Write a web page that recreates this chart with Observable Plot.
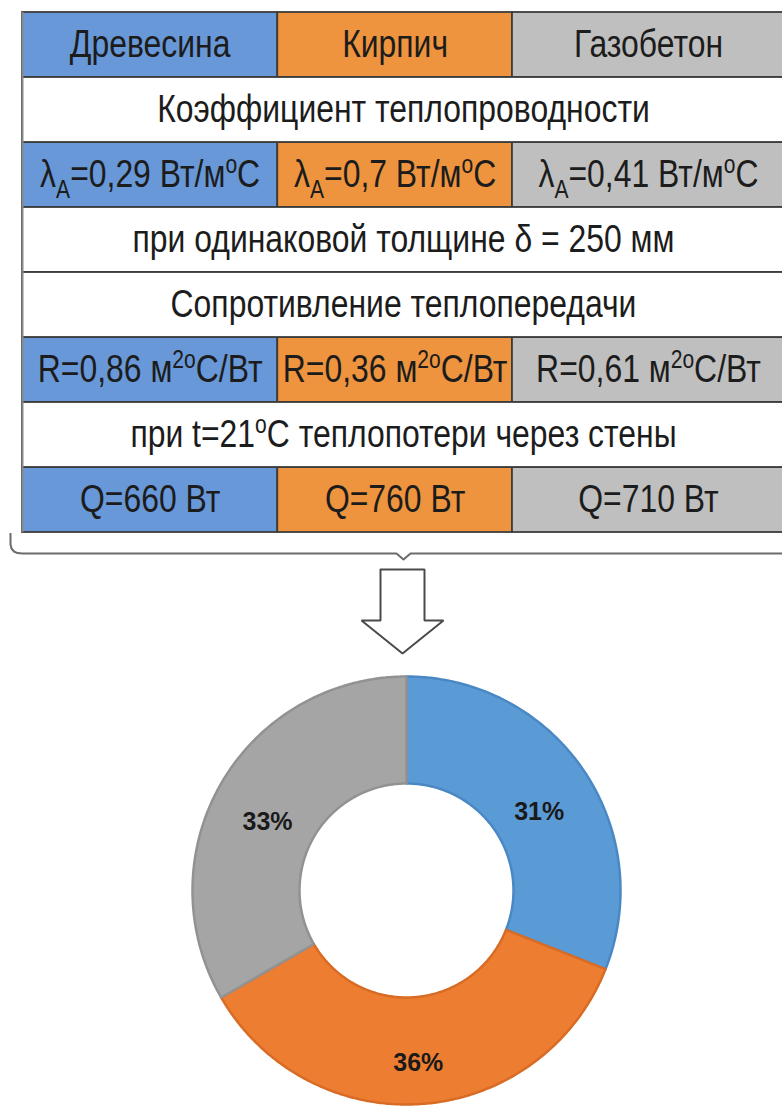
<!DOCTYPE html>
<html><head><meta charset="utf-8">
<script src="https://cdn.jsdelivr.net/npm/d3@7"></script>
<script src="https://cdn.jsdelivr.net/npm/@observablehq/plot@0.6"></script>
<style>
html,body{margin:0;padding:0;background:#fff;}
#chart{width:782px;overflow:hidden;}
#chart svg{display:block;}
</style></head><body><div id="chart"></div>
<script>
// ---------- data ----------
const materials = ["Древесина", "Кирпич", "Газобетон"];
const lambdaA = [0.29, 0.7, 0.41];        // Вт/м°C
const resistanceR = [0.86, 0.36, 0.61];   // м²°C/Вт
const heatLossQ = [660, 760, 710];        // Вт
const wallThickness = 250;                // мм
const indoorTemp = 21;                    // °C
const titleCoef = "Коэффициент теплопроводности";
const titleResist = "Сопротивление теплопередачи";

// ---------- layout / style ----------
const FONT = "'Liberation Sans',Arial,sans-serif";
const tableFont = 38;
const narrow = 0.84;
const colEdges = [0, 0.335, 0.643, 1];
const tableColors = ["#6898d7", "#ef943e", "#bfbfbf"];
const donutColors = ["#5b9bd5", "#ed7d31", "#a5a5a5"];
const donutStrokes = ["#4a88c4", "#d86c25", "#929292"];
const rows = ["names", "coef", "lambda", "thick", "resist", "R", "temp", "Q"];

const fmt = v => String(v).replace(".", ",");

const cells = [];
materials.forEach((m, i) => {
  const x1 = colEdges[i], x2 = colEdges[i + 1];
  cells.push({row: "names", x1, x2, kind: m, text: m});
  cells.push({row: "lambda", x1, x2, kind: m, text: `λ_{A}=${fmt(lambdaA[i])} Вт/м^{o}C`});
  cells.push({row: "R", x1, x2, kind: m, text: `R=${fmt(resistanceR[i])} м^{2o}C/Вт`});
  cells.push({row: "Q", x1, x2, kind: m, text: `Q=${heatLossQ[i]} Вт`});
});
cells.push({row: "coef", x1: 0, x2: 1, kind: "blank", text: titleCoef});
cells.push({row: "thick", x1: 0, x2: 1, kind: "blank", text: `при одинаковой толщине δ = ${wallThickness} мм`});
cells.push({row: "resist", x1: 0, x2: 1, kind: "blank", text: titleResist});
cells.push({row: "temp", x1: 0, x2: 1, kind: "blank", text: `при t=${indoorTemp}^{o}C теплопотери через стены`});

function richText(svg, fs) {
  d3.select(svg).selectAll("text").each(function () {
    const s = this.textContent;
    if (!/[_^]\{/.test(s)) return;
    const sel = d3.select(this);
    sel.text("");
    const re = /([_^])\{([^}]*)\}/g;
    let last = 0, cur = 0, m;
    const add = (t, target, small) => {
      if (!t) return;
      const ts = sel.append("tspan").text(t);
      if (target !== cur) ts.attr("dy", target - cur);
      cur = target;
      if (small) ts.attr("font-size", fs * 0.66);
    };
    while ((m = re.exec(s))) {
      add(s.slice(last, m.index), 0, false);
      add(m[2], m[1] === "_" ? fs * 0.28 : -fs * 0.38, true);
      last = re.lastIndex;
    }
    add(s.slice(last), 0, false);
  });
}
function condense(svg, sx) {
  d3.select(svg).selectAll("text").each(function () {
    const t = this.getAttribute("transform") || "";
    const x = this.getAttribute("x");
    if (x != null && !isNaN(+x) && +x !== 0) {
      this.setAttribute("transform", `${t} translate(${+x},0) scale(${sx},1)`);
      this.setAttribute("x", 0);
    } else {
      this.setAttribute("transform", `${t} scale(${sx},1)`);
    }
  });
}

const chart = document.getElementById("chart");

// ---------- table ----------
const table = Plot.plot({
  width: 782, height: 533,
  marginTop: 12, marginBottom: 1, marginLeft: 22, marginRight: 0,
  x: {domain: [0, 1], range: [22, 784], axis: null},
  y: {domain: rows, padding: 0, axis: null},
  color: {domain: [...materials, "blank"], range: [...tableColors, "#ffffff"]},
  style: {fontFamily: FONT, background: "white"},
  marks: [
    Plot.barX(cells, {x1: "x1", x2: "x2", y: "row", fill: "kind", stroke: "#3c3c3c", strokeWidth: 1.8}),
    Plot.ruleX([0], {stroke: "#8a8a8a", strokeWidth: 2}),
    Plot.text(cells, {x: d => (d.x1 + d.x2) / 2, y: "row", text: "text", fontSize: tableFont, fill: "#1c1c1c"})
  ]
});
richText(table, tableFont);
condense(table, narrow);
chart.appendChild(table);

// ---------- brace + arrow ----------
const bracePts = [[10,0],[10,11],[11,15],[13.5,18],[17,19.6],[22,20],[396,20],[403,26],[410,20],[800,20]];
const arrowPts = [[380,36],[424,36],[424,87],[443,87],[402,120],[361,87],[380,87],[380,36]];
const connector = Plot.plot({
  width: 782, height: 132, margin: 0,
  x: {type: "identity", axis: null}, y: {type: "identity", axis: null},
  marks: [
    Plot.line(bracePts, {x: d => d[0], y: d => d[1], stroke: "#6b6b6b", strokeWidth: 2}),
    Plot.line(arrowPts, {x: d => d[0], y: d => d[1], fill: "white", stroke: "#4a4a4a", strokeWidth: 2, strokeLinejoin: "miter"})
  ]
});
chart.appendChild(connector);

// ---------- doughnut ----------
const total = d3.sum(heatLossQ);
const rIn = 0.5;
let acc = 0;
const slices = heatLossQ.map((q, i) => {
  const a0 = acc / total * 2 * Math.PI; acc += q;
  const a1 = acc / total * 2 * Math.PI;
  const pts = [];
  const n = Math.max(8, Math.ceil((a1 - a0) / (Math.PI / 360)));
  for (let k = 0; k <= n; k++) { const a = a0 + (a1 - a0) * k / n; pts.push({x: Math.sin(a), y: Math.cos(a)}); }
  for (let k = n; k >= 0; k--) { const a = a0 + (a1 - a0) * k / n; pts.push({x: rIn * Math.sin(a), y: rIn * Math.cos(a)}); }
  pts.push(pts[0]);
  const am = (a0 + a1) / 2, rm = (1 + rIn) / 2;
  return {name: materials[i], pts, i, lx: rm * Math.sin(am), ly: rm * Math.cos(am), label: Math.round(q / total * 100) + "%"};
});

const donut = Plot.plot({
  width: 782, height: 446,
  marginTop: 11, marginBottom: 7, marginLeft: 192, marginRight: 162,
  x: {domain: [-1, 1], axis: null}, y: {domain: [-1, 1], axis: null},
  style: {fontFamily: "'Liberation Sans',Arial,sans-serif"},
  marks: [
    ...slices.map(s => Plot.line(s.pts, {x: "x", y: "y", fill: donutColors[s.i], stroke: donutStrokes[s.i], strokeWidth: 2.5, strokeLinejoin: "round"})),
    Plot.text(slices, {x: "lx", y: "ly", text: "label", fontSize: 25, fontWeight: "bold", fill: "#1a1a1a", dy: 12})
  ]
});
chart.appendChild(donut);
</script>
</body></html>
